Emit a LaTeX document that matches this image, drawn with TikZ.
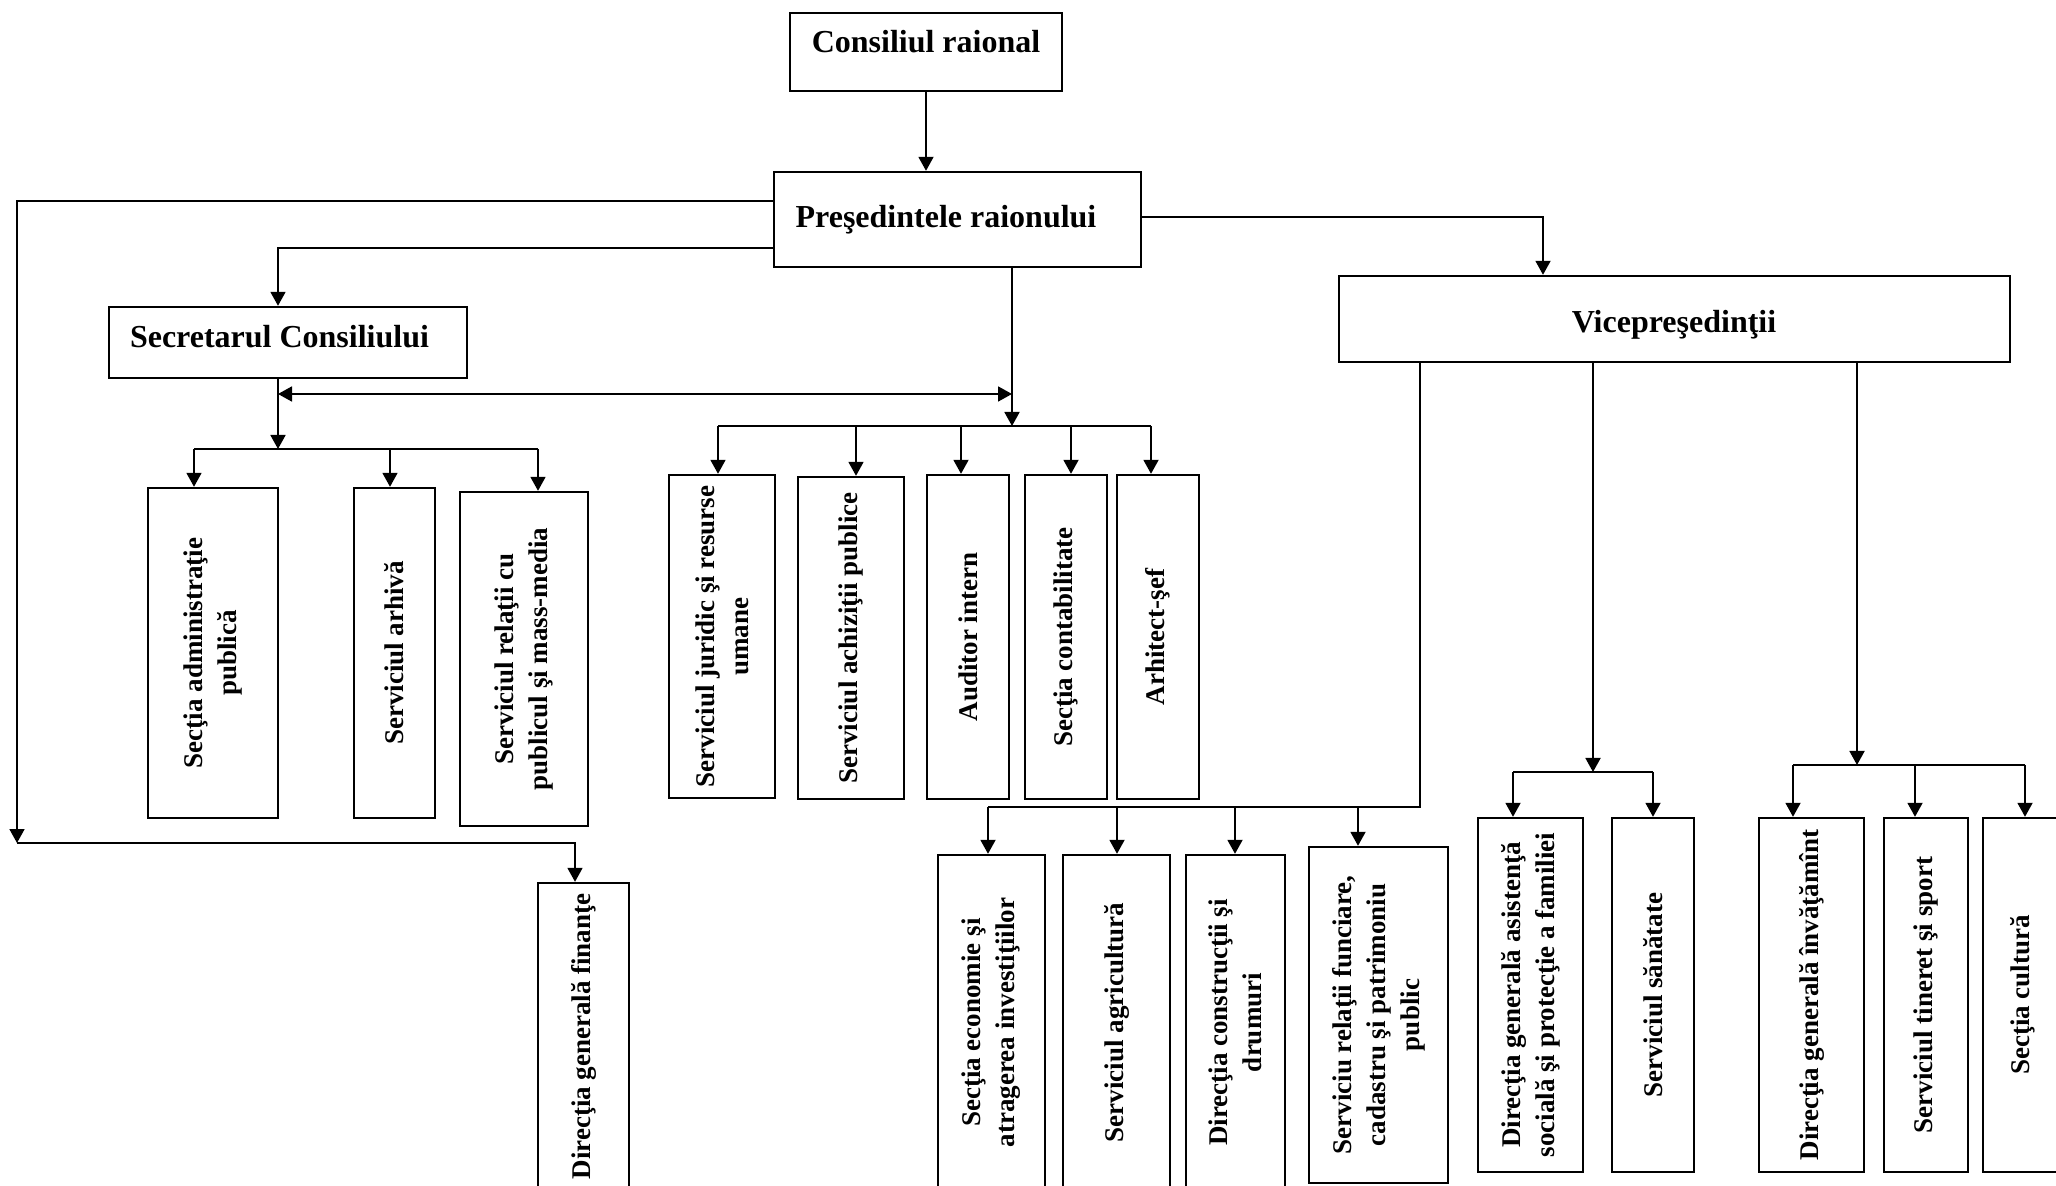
\documentclass[tikz,border=0pt]{standalone}
\usepackage{fontspec}
\setmainfont{Liberation Serif}
\usetikzlibrary{arrows.meta}
\newcommand\myvfont{\fontsize{13.5}{17}\selectfont\bfseries}
\newcommand\myhfont{\fontsize{16}{19}\selectfont\bfseries}
\begin{document}
\begin{tikzpicture}[x=0.5pt,y=-0.5pt,
  conn/.style={line width=0.9pt},
  arr/.style={conn,-{Triangle[length=7pt,width=7.5pt]}},
  darr/.style={conn,{Triangle[length=7pt,width=7.5pt]}-{Triangle[length=7pt,width=7.5pt]}},
  hbox/.style 2 args={draw,line width=1.2pt,minimum width=#1*0.5pt,minimum height=#2*0.5pt,inner sep=0pt},
  vbox/.style 2 args={draw,line width=1.2pt,rotate=90,minimum width=#2*0.5pt,minimum height=#1*0.5pt,inner sep=0pt,align=center,font=\myvfont},
  htext/.style={font=\myhfont,inner sep=0pt,anchor=base}]
\clip (0,0) rectangle (2056,1186);
\fill[white] (0,0) rectangle (2056,1186);

% top boxes
\node[hbox={272}{78}] (cons) at (926,52) {};
\node[htext] (consT) at (926,53) {Consiliul raional};
\node[hbox={367}{95}] (pres) at (957.5,219.5) {};
\node[htext] (presT) at (946,228) {Preşedintele raionului};
\node[hbox={358}{71}] (secr) at (288,342.5) {};
\node[htext] (secrT) at (279.5,348) {Secretarul Consiliului};
\node[hbox={671}{86}] (vice) at (1674.5,319) {};
\node[htext] (viceT) at (1674,333) {Vicepreşedinţii};

% row 1
\node[vbox={130}{330}] (adm) at (213,653) {Secţia administraţie\\publică};
\node[vbox={81}{330}] (arh) at (394.5,653) {Serviciul arhivă};
\node[vbox={128}{334}] (rel) at (524,659) {Serviciul relaţii cu\\publicul şi mass-media};
\node[vbox={106}{323}] (jur) at (722,636.5) {Serviciul juridic şi resurse\\umane};
\node[vbox={106}{322}] (ach) at (851,638) {Serviciul achiziţii publice};
\node[vbox={82}{324}] (aud) at (968,637) {Auditor intern};
\node[vbox={82}{324}] (cont) at (1066,637) {Secţia contabilitate};
\node[vbox={82}{324}] (arhit) at (1158,637) {Arhitect-şef};

% row 2
\node[vbox={91}{307}] (fin) at (583.5,1036.5) {Direcţia generală finanţe};
\node[vbox={107}{335}] (eco) at (991.5,1022.5) {Secţia economie şi\\atragerea investiţiilor};
\node[vbox={107}{335}] (agr) at (1116.5,1022.5) {Serviciul agricultură};
\node[vbox={99}{335}] (cdr) at (1235.5,1022.5) {Direcţia construcţii şi\\drumuri};
\node[vbox={139}{336}] (fun) at (1378.5,1015) {Serviciu relaţii funciare,\\cadastru şi patrimoniu\\public};
\node[vbox={105}{354}] (asis) at (1530.5,995) {Direcţia generală asistenţă\\socială şi protecţie a familiei};
\node[vbox={82}{354}] (san) at (1653,995) {Serviciul sănătate};
\node[vbox={105}{354}] (inv) at (1811.5,995) {Direcţia generală învăţămînt};
\node[vbox={84}{354}] (tin) at (1926,995) {Serviciul tineret şi sport};
\node[vbox={79}{354}] (cult) at (2022.5,995) {Secţia cultură};

% connectors
\draw[arr] (cons.south) -- (cons.south |- pres.north);
\draw[arr] (pres.west |- 0,201) -- (17,201) -- (17,843);
\draw[arr] (17,843) -- (575,843) -- (575,0 |- fin.east);
\draw[arr] (pres.west |- 0,248) -- (278,248) -- (278,0 |- secr.north);
\draw[arr] (pres.east |- 0,217) -- (1543,217) -- (1543,0 |- vice.north);
\draw[arr] (1012,0 |- pres.south) -- (1012,426);
\draw[darr] (278,394) -- (1012,394);
\draw[conn] (718,426) -- (1151,426);
\foreach \x/\n in {718/jur,856/ach,961/aud,1071/cont,1151/arhit}
  \draw[arr] (\x,426) -- (\x,0 |- \n.east);
\draw[arr] (278,0 |- secr.south) -- (278,449);
\draw[conn] (194,449) -- (538,449);
\foreach \x/\n in {194/adm,390/arh,538/rel}
  \draw[arr] (\x,449) -- (\x,0 |- \n.east);
\draw[conn] (1420,0 |- vice.south) -- (1420,807) -- (988,807);
\foreach \x/\n in {988/eco,1117/agr,1235/cdr,1358/fun}
  \draw[arr] (\x,807) -- (\x,0 |- \n.east);
\draw[arr] (1593,0 |- vice.south) -- (1593,772);
\draw[conn] (1513,772) -- (1653,772);
\foreach \x/\n in {1513/asis,1653/san}
  \draw[arr] (\x,772) -- (\x,0 |- \n.east);
\draw[arr] (1857,0 |- vice.south) -- (1857,765);
\draw[conn] (1793,765) -- (2025,765);
\foreach \x/\n in {1793/inv,1915/tin,2025/cult}
  \draw[arr] (\x,765) -- (\x,0 |- \n.east);
\end{tikzpicture}
\end{document}
